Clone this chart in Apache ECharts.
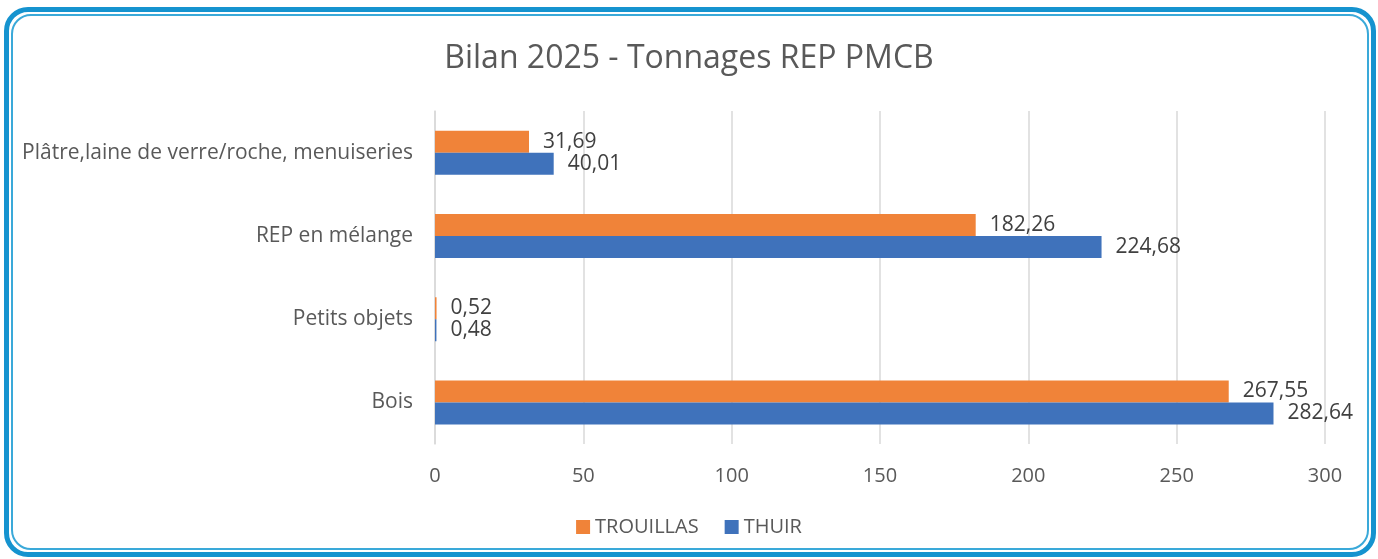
<!DOCTYPE html>
<html>
<head>
<meta charset="utf-8">
<script src="https://cdn.jsdelivr.net/npm/echarts@6/dist/echarts.min.js"></script>
<style>
  html, body { margin: 0; padding: 0; background: #fff; }
  #frame {
    position: absolute; left: 4px; top: 7px; width: 1362px; height: 540px;
    border: 5px solid #1593cf; border-radius: 24px;
  }
  #frame2 {
    position: absolute; left: 2px; top: 2px; right: 2px; bottom: 2px;
    border: 2px solid #3aa9d9; border-radius: 20px;
  }
  #chart { position: absolute; left: 0; top: 0; width: 1378px; height: 559px; }
</style>
</head>
<body>
<div id="frame"><div id="frame2"></div></div>
<div id="chart"></div>
<script>
  // categories listed bottom -> top (category axis on y)
  const categories = ['Bois', 'Petits objets', 'REP en mélange', 'Plâtre,laine de verre/roche, menuiseries'];
  const trouillas = [267.55, 0.52, 182.26, 31.69];
  const thuir = [282.64, 0.48, 224.68, 40.01];
  const xTicks = [0, 50, 100, 150, 200, 250, 300];

  const font = 'Open Sans, sans-serif';
  const fmt = (p) => p.value.toFixed(2).replace('.', ',');

  const chart = echarts.init(document.getElementById('chart'));
  chart.setOption({
    animation: false,
    textStyle: { fontFamily: font },
    title: {
      text: 'Bilan 2025 - Tonnages REP PMCB',
      left: 'center',
      top: 38,
      textStyle: { fontFamily: font, fontSize: 32, fontWeight: 'normal', color: '#595959' }
    },
    legend: {
      data: ['TROUILLAS', 'THUIR'],
      bottom: 17,
      left: 'center',
      itemWidth: 14,
      itemHeight: 14,
      itemGap: 26,
      icon: 'rect',
      textStyle: { fontFamily: font, fontSize: 20, color: '#595959' }
    },
    grid: { left: 435, right: 53, top: 111, bottom: 115, containLabel: false },
    xAxis: {
      type: 'value',
      min: xTicks[0],
      max: xTicks[xTicks.length - 1],
      interval: 50,
      axisLine: { show: false },
      axisTick: { show: false },
      splitLine: { lineStyle: { color: '#d9d9d9', width: 1.5 } },
      axisLabel: { fontFamily: font, fontSize: 20, color: '#595959', margin: 22 }
    },
    yAxis: {
      type: 'category',
      data: categories,
      axisLine: { lineStyle: { color: '#d9d9d9', width: 1.5 } },
      axisTick: { show: false },
      axisLabel: { fontFamily: font, fontSize: 21, color: '#595959', margin: 22 }
    },
    series: [
      {
        name: 'TROUILLAS',
        type: 'bar',
        data: trouillas,
        barWidth: 22,
        barGap: '0%',
        itemStyle: { color: '#f08339' },
        label: { show: true, position: 'right', distance: 14, formatter: fmt,
                 fontFamily: font, fontSize: 21, color: '#404040' }
      },
      {
        name: 'THUIR',
        type: 'bar',
        data: thuir,
        barWidth: 22,
        barGap: '0%',
        itemStyle: { color: '#3f72bb' },
        label: { show: true, position: 'right', distance: 14, formatter: fmt,
                 fontFamily: font, fontSize: 21, color: '#404040' }
      }
    ]
  });
</script>
</body>
</html>
